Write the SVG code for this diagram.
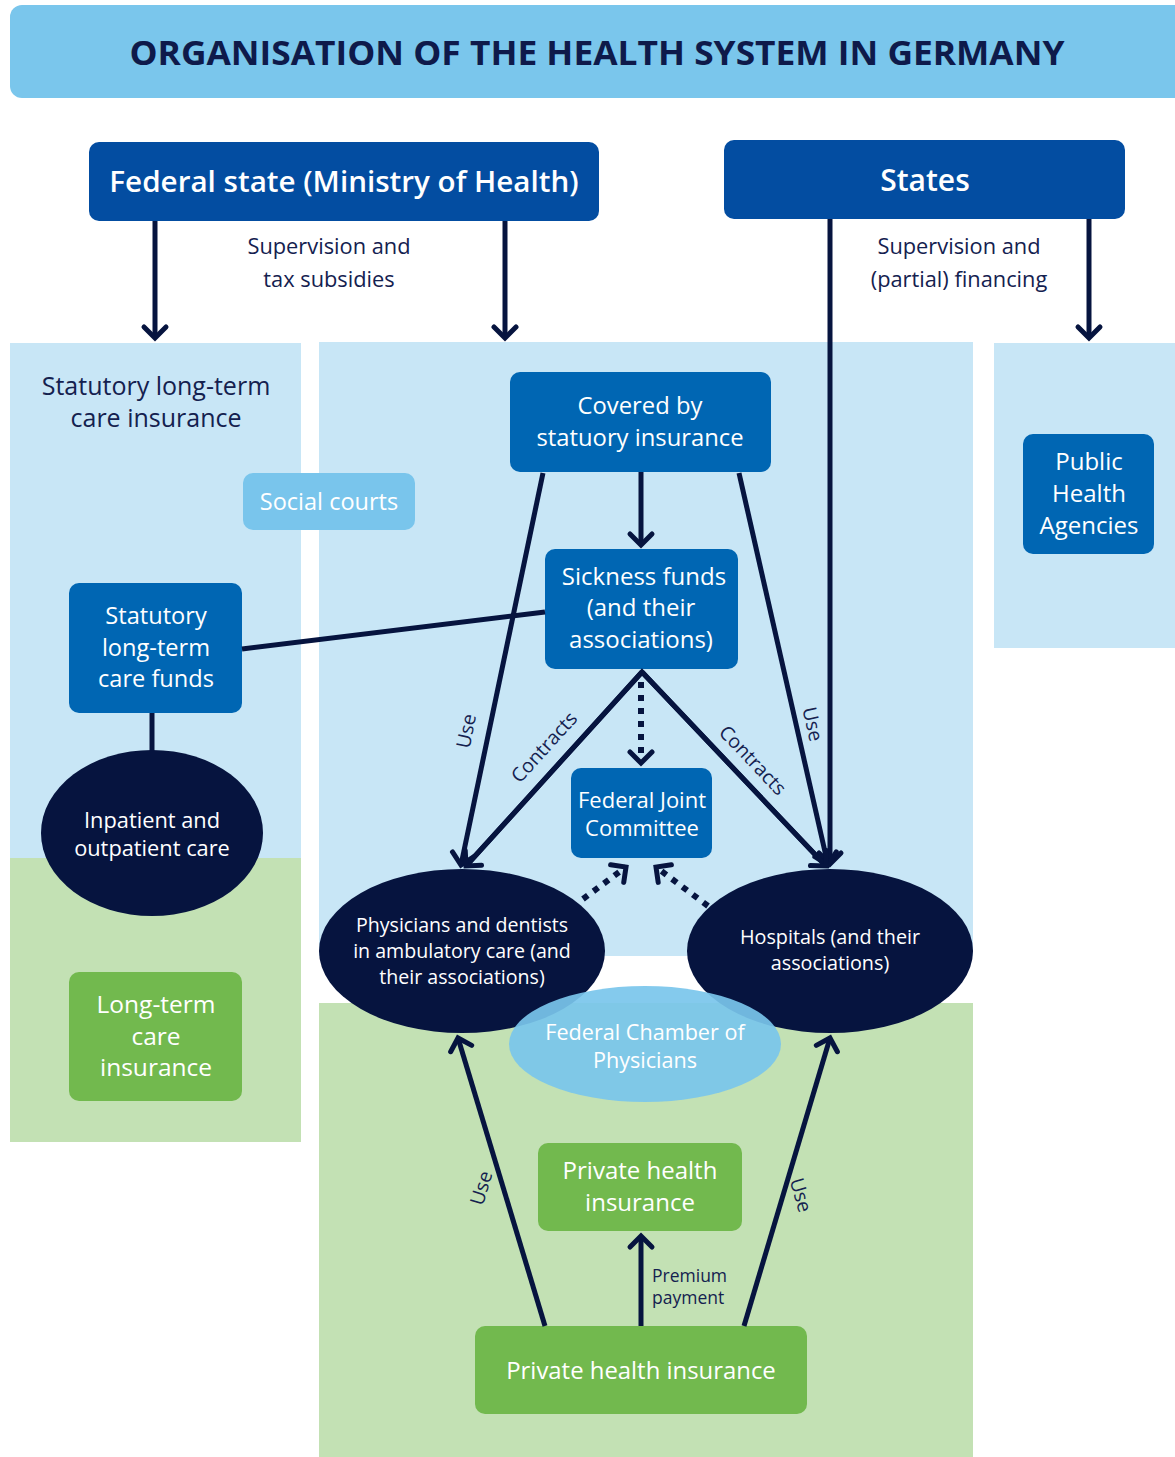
<svg xmlns="http://www.w3.org/2000/svg" width="1175" height="1457" viewBox="0 0 1175 1457">
<defs>
<marker id="ah" viewBox="-14 -14 20 28" markerWidth="20" markerHeight="28" refX="0" refY="0" orient="auto" markerUnits="userSpaceOnUse" overflow="visible">
<path d="M-11,-11 L0,0 L-11,11" fill="none" stroke="#06143F" stroke-width="5" stroke-linecap="round" stroke-linejoin="miter"/>
</marker>
<style>
text{font-family:"Open Sans","Liberation Sans",sans-serif;}
.t{fill:#14214F;text-anchor:middle;}
.sup{font-size:21.8px;}
.rot{font-size:19.5px;}
.w{fill:#FFFFFF;text-anchor:middle;}
.hdr{fill:#034DA1;}
.nb{fill:#0066B3;}
.ng{fill:#72B94E;}
.el{fill:#06143F;}
.pb{fill:#C8E6F6;}
.pg{fill:#C3E1B4;}
.ln{stroke:#06143F;stroke-width:5;fill:none;}
.arr{marker-end:url(#ah);}
.dot{stroke:#06143F;stroke-width:6;fill:none;stroke-dasharray:6 7;}
</style>
</defs>
<rect width="1175" height="1457" fill="#FFFFFF"/>

<g id="panels">
<rect class="pb" x="10" y="343" width="291" height="516"/>
<rect class="pg" x="10" y="858" width="291" height="284"/>
<rect class="pb" x="319" y="342" width="654" height="614"/>
<rect class="pg" x="319" y="1003" width="654" height="454"/>
<rect class="pb" x="994" y="343" width="181" height="305"/>
</g>

<g id="title">
<rect x="10" y="5" width="1180" height="93" rx="12" fill="#7AC6EC"/>
<text x="597" y="65" text-anchor="middle" font-size="34" font-weight="700" fill="#0E1A4A" textLength="935" lengthAdjust="spacingAndGlyphs">ORGANISATION OF THE HEALTH SYSTEM IN GERMANY</text>
</g>

<g id="federal">
<rect class="hdr" x="89" y="142" width="510" height="79" rx="10"/>
<text class="w" x="344" y="192" font-size="29.6" font-weight="600">Federal state (Ministry of Health)</text>
</g>
<g id="states">
<rect class="hdr" x="724" y="140" width="401" height="79" rx="10"/>
<text class="w" x="925" y="191" font-size="30" font-weight="600">States</text>
</g>

<g id="ltci-label">
<text class="t" x="156" y="395" font-size="25">Statutory long-term</text>
<text class="t" x="156" y="427" font-size="25">care insurance</text>
</g>

<g id="social-courts">
<rect x="243" y="473" width="172" height="57" rx="10" fill="#79C5EC"/>
<text class="w" x="329" y="510" font-size="23.5">Social courts</text>
</g>

<g id="covered">
<rect class="nb" x="510" y="372" width="261" height="100" rx="10"/>
<text class="w" x="640" y="414" font-size="23.8">Covered by</text>
<text class="w" x="640" y="446" font-size="23.8">statuory insurance</text>
</g>

<g id="sickness">
<rect class="nb" x="545" y="549" width="193" height="120" rx="10"/>
<text class="w" x="644" y="585" font-size="24">Sickness funds</text>
<text class="w" x="641" y="616" font-size="24">(and their</text>
<text class="w" x="641" y="648" font-size="24">associations)</text>
</g>

<g id="ltc-funds">
<rect class="nb" x="69" y="583" width="173" height="130" rx="10"/>
<text class="w" x="156" y="624" font-size="23.6">Statutory</text>
<text class="w" x="156" y="656" font-size="23.6">long-term</text>
<text class="w" x="156" y="687" font-size="23.6">care funds</text>
</g>

<g id="inpatient">
<ellipse class="el" cx="152" cy="833" rx="111" ry="83"/>
<text class="w" x="152" y="828" font-size="21.8">Inpatient and</text>
<text class="w" x="152" y="856" font-size="21.8">outpatient care</text>
</g>

<g id="ltc-insurance">
<rect class="ng" x="69" y="972" width="173" height="129" rx="10"/>
<text class="w" x="156" y="1013" font-size="24.5">Long-term</text>
<text class="w" x="156" y="1045" font-size="24.5">care</text>
<text class="w" x="156" y="1076" font-size="24.5">insurance</text>
</g>

<g id="public-health">
<rect class="nb" x="1023" y="434" width="131" height="120" rx="10"/>
<text class="w" x="1089" y="470" font-size="24">Public</text>
<text class="w" x="1089" y="502" font-size="24">Health</text>
<text class="w" x="1089" y="534" font-size="24">Agencies</text>
</g>

<g id="fjc">
<rect class="nb" x="571" y="768" width="141" height="90" rx="10"/>
<text class="w" x="642" y="808" font-size="22">Federal Joint</text>
<text class="w" x="642" y="836" font-size="22">Committee</text>
</g>

<g id="physicians">
<ellipse class="el" cx="462" cy="951" rx="143" ry="82"/>
<text class="w" x="462" y="932" font-size="19.6">Physicians and dentists</text>
<text class="w" x="462" y="958" font-size="19.6">in ambulatory care (and</text>
<text class="w" x="462" y="984" font-size="19.6">their associations)</text>
</g>

<g id="hospitals">
<ellipse class="el" cx="830" cy="951" rx="143" ry="82"/>
<text class="w" x="830" y="944" font-size="19.8">Hospitals (and their</text>
<text class="w" x="830" y="970" font-size="19.8">associations)</text>
</g>

<g id="chamber">
<ellipse cx="645" cy="1044" rx="136" ry="58" fill="#79C5EC" fill-opacity="0.92"/>
<text class="w" x="645" y="1040" font-size="21.6">Federal Chamber of</text>
<text class="w" x="645" y="1068" font-size="21.6">Physicians</text>
</g>

<g id="phi-upper">
<rect class="ng" x="538" y="1143" width="204" height="88" rx="10"/>
<text class="w" x="640" y="1179" font-size="24">Private health</text>
<text class="w" x="640" y="1211" font-size="24">insurance</text>
</g>

<g id="phi-lower">
<rect class="ng" x="475" y="1326" width="332" height="88" rx="10"/>
<text class="w" x="641" y="1379" font-size="23.9">Private health insurance</text>
</g>

<g id="connectors">
<line class="ln arr" x1="155" y1="221" x2="155" y2="338"/>
<line class="ln arr" x1="505" y1="221" x2="505" y2="338"/>
<line class="ln arr" x1="1089" y1="219" x2="1089" y2="338"/>
<line class="ln arr" x1="830" y1="219" x2="830" y2="864"/>
<line class="ln arr" x1="641" y1="472" x2="641" y2="545"/>
<line class="ln arr" x1="543" y1="473" x2="461" y2="865"/>
<line class="ln arr" x1="739" y1="473" x2="828" y2="865"/>
<polyline class="ln" points="466,866 642,672 826,866" stroke-linejoin="miter"/>
<line class="ln arr" x1="642" y1="672" x2="466" y2="866"/>
<line class="ln arr" x1="642" y1="672" x2="826" y2="866"/>
<line class="dot arr" x1="641" y1="682" x2="641" y2="763"/>
<line class="dot arr" x1="583" y1="899" x2="626" y2="867"/>
<line class="dot arr" x1="708" y1="906" x2="656" y2="867"/>
<line class="ln" x1="242" y1="649" x2="545" y2="612"/>
<line class="ln" x1="152" y1="713" x2="152" y2="751"/>
<line class="ln arr" x1="545" y1="1326" x2="458" y2="1038"/>
<line class="ln arr" x1="744" y1="1326" x2="830" y2="1038"/>
<line class="ln arr" x1="641" y1="1326" x2="641" y2="1236"/>
</g>

<g id="labels">
<text class="t sup" x="329" y="254">Supervision and</text>
<text class="t sup" x="329" y="287">tax subsidies</text>
<text class="t sup" x="959" y="254">Supervision and</text>
<text class="t sup" x="959" y="287">(partial) financing</text>
<text class="t rot" transform="translate(466,731) rotate(-78.4)" y="7">Use</text>
<text class="t rot" transform="translate(813,724) rotate(77.2)" y="7">Use</text>
<text class="t rot" transform="translate(544,747) rotate(-47.8)" y="7">Contracts</text>
<text class="t rot" transform="translate(753,760) rotate(46.5)" y="7">Contracts</text>
<text class="t rot" transform="translate(481,1188) rotate(-73.1)" y="7">Use</text>
<text class="t rot" transform="translate(801,1195) rotate(73.5)" y="7">Use</text>
<text x="652" y="1282" font-size="17.5" fill="#14214F">Premium</text>
<text x="652" y="1304" font-size="17.5" fill="#14214F">payment</text>
</g>
</svg>
